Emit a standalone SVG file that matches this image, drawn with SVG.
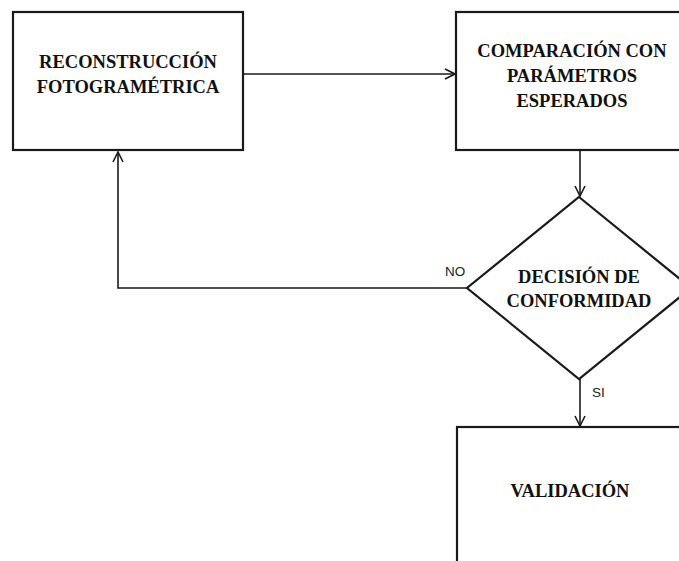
<svg xmlns="http://www.w3.org/2000/svg" width="679" height="561" viewBox="0 0 679 561">
<style>
.box{fill:#fff;stroke:#1a1a1a;stroke-width:2.2}
.t{font-family:"Liberation Serif","DejaVu Serif",serif;font-weight:bold;font-size:18.5px;fill:#111;text-anchor:middle}
.lbl{font-family:"Liberation Sans","DejaVu Sans",sans-serif;font-size:13.5px;fill:#222}
.c{fill:none;stroke:#1a1a1a;stroke-width:1.6}
</style>
<defs>
<marker id="ah" viewBox="0 0 12 12" refX="11" refY="6" markerWidth="12" markerHeight="12" markerUnits="userSpaceOnUse" orient="auto">
<path d="M1,1 L11,6 L1,11" fill="none" stroke="#1a1a1a" stroke-width="1.6"/>
</marker>
</defs>
<rect width="679" height="561" fill="#fff"/>
<g id="connectors">
<path class="c" d="M243,74 H455" marker-end="url(#ah)"/>
<path class="c" d="M580,151 V196" marker-end="url(#ah)"/>
<path class="c" d="M467,288 H118 V152" marker-end="url(#ah)"/>
<path class="c" d="M580,379 V426" marker-end="url(#ah)"/>
<text class="lbl" x="445" y="276">NO</text>
<text class="lbl" x="592" y="397">SI</text>
</g>
<g id="reconstruccion">
<rect class="box" x="13" y="12" width="230" height="138"/>
<text class="t" x="128" y="68">RECONSTRUCCIÓN</text>
<text class="t" x="128" y="93">FOTOGRAMÉTRICA</text>
</g>
<g id="comparacion">
<rect class="box" x="456" y="12" width="240" height="138"/>
<text class="t" x="572" y="57">COMPARACIÓN CON</text>
<text class="t" x="572" y="82">PARÁMETROS</text>
<text class="t" x="572" y="107">ESPERADOS</text>
</g>
<g id="decision">
<polygon class="box" points="579,197 691,288 579,379 467,288"/>
<text class="t" x="579" y="283">DECISIÓN DE</text>
<text class="t" x="579" y="307">CONFORMIDAD</text>
</g>
<g id="validacion">
<rect class="box" x="457" y="427" width="240" height="160"/>
<text class="t" x="570" y="497">VALIDACIÓN</text>
</g>
</svg>
